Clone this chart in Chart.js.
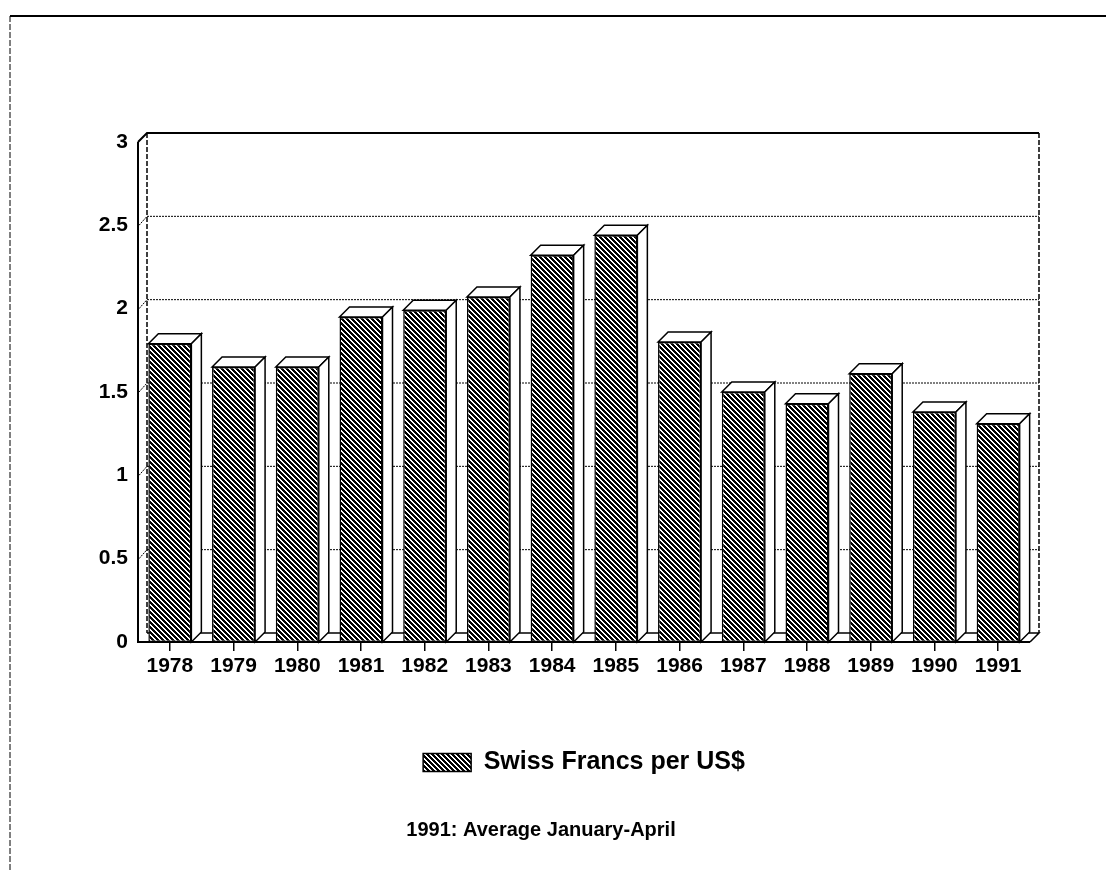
<!DOCTYPE html>
<html>
<head>
<meta charset="utf-8">
<title>Swiss Francs per US$</title>
<script src="https://cdn.jsdelivr.net/npm/chart.js@4"></script>
<style>
  html, body { margin: 0; padding: 0; background: #fff; }
  #wrap { width: 1106px; height: 870px; }
</style>
</head>
<body>
<div id="wrap"><canvas id="chart" width="1106" height="870"></canvas></div>
<script>
const YEARS = ['1978','1979','1980','1981','1982','1983','1984','1985','1986','1987','1988','1989','1990','1991'];
const RATES = [1.79, 1.65, 1.65, 1.95, 1.99, 2.07, 2.32, 2.44, 1.80, 1.50, 1.43, 1.61, 1.38, 1.31];
const Y_TICK_LABELS = ['0','0.5','1','1.5','2','2.5','3'];
const SERIES_NAME = 'Swiss Francs per US$';
const NOTE = '1991: Average January-April';

const FONT = '"Liberation Sans", Arial, Helvetica, sans-serif';
const BAR_DX = 10, BAR_DY = 10;   // depth of the bars
const WALL_DX = 9, WALL_DY = 9;   // depth of back wall

// diagonal hatch like the old plotter fill
function makeHatch(){
  const c = document.createElement('canvas');
  c.width = 5; c.height = 5;
  const g = c.getContext('2d');
  const img = g.createImageData(5, 5);
  for (let y = 0; y < 5; y++) {
    for (let x = 0; x < 5; x++) {
      const k = ((x - y) % 5 + 5) % 5;
      const v = (k === 0 || k === 1) ? 255 : 0;
      const p = (y * 5 + x) * 4;
      img.data[p] = v; img.data[p+1] = v; img.data[p+2] = v; img.data[p+3] = 255;
    }
  }
  g.putImageData(img, 0, 0);
  return g.createPattern(c, 'repeat');
}
const ctx = document.getElementById('chart').getContext('2d');
const hatch = makeHatch();

const boxPlugin = {
  id: 'box3d',
  beforeDraw(chart){
    const c = chart.ctx;
    c.save();
    c.fillStyle = '#fff';
    c.fillRect(0, 0, chart.width, chart.height);
    // page frame
    c.strokeStyle = '#000';
    c.lineWidth = 2;
    c.beginPath();
    c.moveTo(10, 16); c.lineTo(chart.width, 16);
    c.stroke();
    c.lineWidth = 1;
    c.setLineDash([6, 2]);
    c.beginPath();
    c.moveTo(10, 16); c.lineTo(10, chart.height);
    c.stroke();
    c.restore();
  },
  beforeDatasetsDraw(chart){
    const c = chart.ctx;
    const a = chart.chartArea;
    const ys = chart.scales.y;
    const L = a.left, R = a.right, T = a.top, B = a.bottom;
    c.save();
    c.strokeStyle = '#000';
    // dotted grid on the back wall + small marks on the left wall
    c.lineWidth = 1;
    c.setLineDash([2, 1]);
    Y_TICK_LABELS.forEach((lab, i) => {
      const v = Number(lab);
      if (v <= 0 || v >= 3) return;
      const y = ys.getPixelForValue(v);
      c.beginPath();
      c.moveTo(L + WALL_DX, y - WALL_DY);
      c.lineTo(R + WALL_DX, y - WALL_DY);
      c.stroke();
      c.beginPath();
      c.moveTo(L + 1, y);
      c.lineTo(L + WALL_DX, y - WALL_DY);
      c.stroke();
    });
    // back wall edges
    c.setLineDash([5, 2]);
    c.lineWidth = 1.5;
    c.beginPath();
    c.moveTo(L + WALL_DX, T - WALL_DY); c.lineTo(L + WALL_DX, B - WALL_DY);
    c.moveTo(R + WALL_DX, T - WALL_DY); c.lineTo(R + WALL_DX, B - WALL_DY);
    c.stroke();
    c.setLineDash([]);
    c.lineWidth = 2;
    c.beginPath();
    c.moveTo(L, T); c.lineTo(L + WALL_DX, T - WALL_DY); c.lineTo(R + WALL_DX, T - WALL_DY);
    c.stroke();
    // floor
    c.lineWidth = 1.5;
    c.beginPath();
    c.moveTo(L + WALL_DX, B - WALL_DY); c.lineTo(R + WALL_DX, B - WALL_DY);
    c.lineTo(R, B);
    c.stroke();
    c.restore();
  },
  afterDatasetsDraw(chart){
    const c = chart.ctx;
    const a = chart.chartArea;
    const meta = chart.getDatasetMeta(0);
    c.save();
    c.strokeStyle = '#000';
    c.fillStyle = '#fff';
    c.lineWidth = 1.5;
    meta.data.forEach(bar => {
      const x0 = bar.x - bar.width / 2, x1 = bar.x + bar.width / 2;
      const top = bar.y, base = bar.base;
      // top face
      c.beginPath();
      c.moveTo(x0, top);
      c.lineTo(x0 + BAR_DX, top - BAR_DY);
      c.lineTo(x1 + BAR_DX, top - BAR_DY);
      c.lineTo(x1, top);
      c.closePath();
      c.fill(); c.stroke();
      // side face
      c.beginPath();
      c.moveTo(x1, top);
      c.lineTo(x1 + BAR_DX, top - BAR_DY);
      c.lineTo(x1 + BAR_DX, base - BAR_DY);
      c.lineTo(x1, base);
      c.closePath();
      c.fill(); c.stroke();
    });
    // front axis lines
    c.lineWidth = 2;
    c.beginPath();
    c.moveTo(a.left, a.top); c.lineTo(a.left, a.bottom); c.lineTo(a.right, a.bottom);
    c.stroke();
    c.restore();
  },
  afterDraw(chart){
    const c = chart.ctx;
    c.save();
    c.fillStyle = '#000';
    c.font = 'bold 20px ' + FONT;
    c.textAlign = 'center';
    c.textBaseline = 'middle';
    c.fillText(NOTE, 541, 830);
    c.restore();
  }
};

const chart = new Chart(ctx, {
  type: 'bar',
  data: {
    labels: YEARS,
    datasets: [{
      label: SERIES_NAME,
      data: RATES,
      backgroundColor: hatch,
      borderColor: '#000',
      borderWidth: 1.5,
      borderSkipped: false,
      categoryPercentage: 1,
      barPercentage: 0.675
    }]
  },
  options: {
    responsive: false,
    animation: false,
    events: [],
    layout: { padding: { left: 0, right: 76, top: 142, bottom: 85 } },
    scales: {
      x: {
        grid: { display: true, drawOnChartArea: false, drawTicks: true, tickLength: 9, offset: false, color: '#000', lineWidth: 1.5 },
        border: { display: false },
        ticks: { color: '#000', padding: 3, font: { family: FONT, size: 21, weight: 'bold' }, maxRotation: 0, autoSkip: false },
        afterFit(s){ s.height = 98; }
      },
      y: {
        min: 0, max: 3,
        grid: { display: false, drawTicks: false },
        border: { display: false },
        ticks: {
          stepSize: 0.5,
          padding: 10,
          color: '#000',
          font: { family: FONT, size: 21, weight: 'bold' },
          callback: (v, i) => Y_TICK_LABELS[i]
        },
        afterFit(s){ s.width = 138; }
      }
    },
    plugins: {
      legend: {
        position: 'bottom',
        fullSize: false,
        labels: {
          boxWidth: 48, boxHeight: 18, padding: 10,
          color: '#000',
          font: { family: FONT, size: 25, weight: 'bold' }
        }
      },
      tooltip: { enabled: false }
    }
  },
  plugins: [boxPlugin]
});
</script>
</body>
</html>
